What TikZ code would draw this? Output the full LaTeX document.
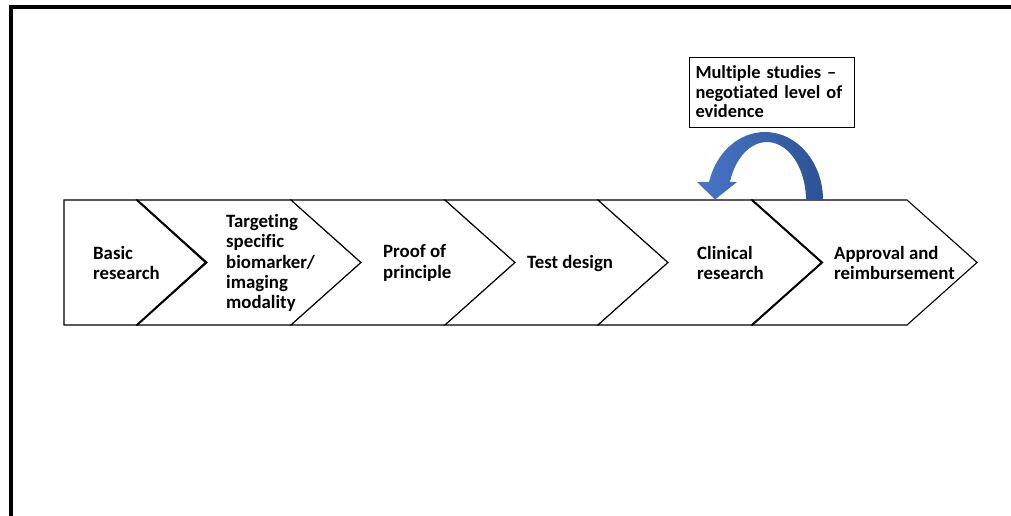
\documentclass[tikz,border=0pt]{standalone}
\usepackage{fontspec}
\setmainfont{Carlito}[Ligatures={NoCommon}]
\begin{document}
\begin{tikzpicture}[x=1pt,y=-1pt,
  chev/.style={draw=black,line width=1.1pt,fill=white,line join=miter},
  thickedge/.style={draw=black,line width=2pt},
  lbl/.style={anchor=west,align=left,inner sep=0pt,font=\fontsize{18.8}{20.3}\selectfont\bfseries},
  notebox/.style={draw=black,line width=1pt,fill=white,minimum width=165pt,minimum height=70pt,
    inner xsep=6.5pt,text width=152pt,align=left,font=\fontsize{18.4}{19.5}\selectfont\bfseries},
  frame/.style={line width=3.5pt,line join=miter}]
\useasboundingbox (0,0) rectangle (1011,515);
% outer frame
\draw[frame] (11,520) -- (11,7) -- (1016,7);
% chevrons
\draw[chev] (64,200) -- (137,200) -- (206,262.5) -- (137,325) -- (64,325) -- cycle;
\foreach \a/\b in {137/291,291/445,445/598,598/752,752/907}{
  \draw[chev] (\a,200) -- (\b,200) -- (\b+70,262.5) -- (\b,325) -- (\a,325) -- (\a+70,262.5) -- cycle;
}
\draw[thickedge] (137,200) -- (206,262.5) -- (137,325);
\draw[thickedge] (752,200) -- (822,262.5) -- (752,325);
% labels
\node[lbl] (basic) at (93,263) {Basic\\research};
\node[lbl] (target) at (226,263) {Targeting\\specific\\biomarker/\\imaging\\modality};
\node[lbl] (proof) at (383,263) {Proof of\\principle};
\node[lbl] (test) at (527,263) {Test design};
\node[lbl] (clin) at (697,263) {Clinical\\research};
\node[lbl] (appr) at (834,263) {Approval and\\reimbursement};
% note box
\node[notebox] (note) at (771.5,92) {Multiple studies --\\negotiated level of\\evidence};
% curved blue arrow
\path[left color={rgb,255:red,72;green,118;blue,200}, right color={rgb,255:red,45;green,82;blue,148}]
  (823,200) arc[start angle=0,end angle=-164.6,x radius=58,y radius=68]
  -- (697,182) -- (715,199.5) -- (737,182) -- (729.9,182)
  arc[start angle=-161.9,end angle=0,x radius=39,y radius=58] -- cycle;
\end{tikzpicture}
\end{document}
